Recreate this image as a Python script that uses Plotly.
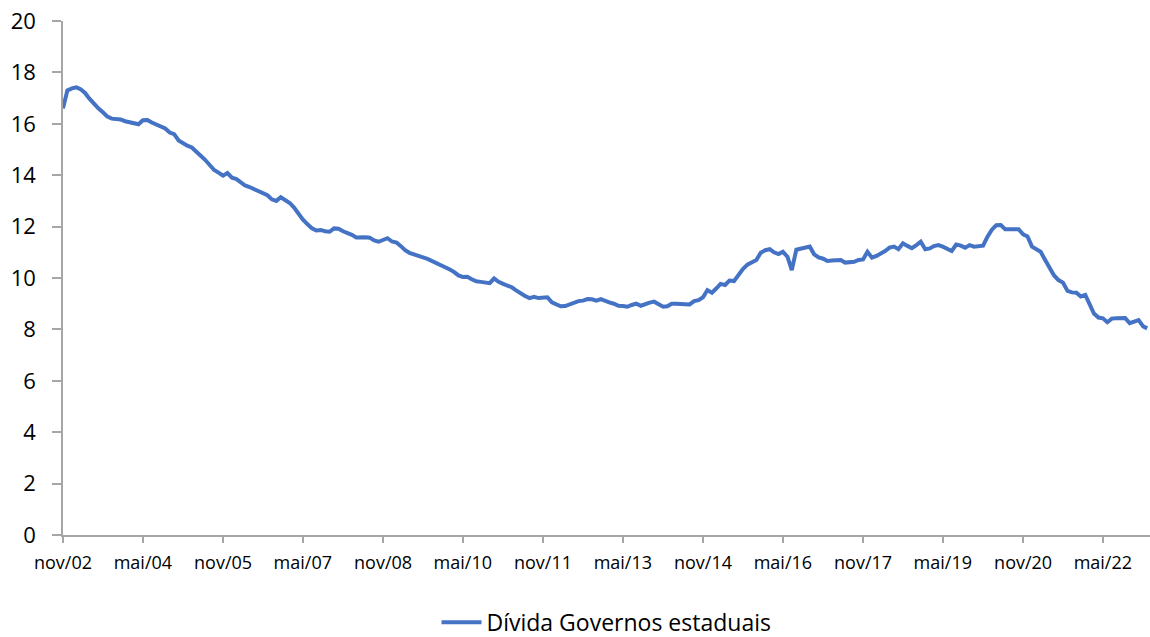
import pandas as pd
import plotly.graph_objects as go

# Monthly state-government debt (% of GDP), nov/2002 onwards
start_month = "2002-11-01"
divida_estaduais = [
    16.60, 17.30, 17.38, 17.42, 17.35, 17.20, 16.98, 16.78, 16.60, 16.45,  # nov/02 - ago/03
    16.28, 16.20, 16.18, 16.17, 16.10, 16.06, 16.02, 15.98, 16.14, 16.15,  # set/03 - jun/04
    16.05, 15.96, 15.90, 15.82, 15.66, 15.60, 15.35, 15.22, 15.15, 15.08,  # jul/04 - abr/05
    14.90, 14.76, 14.60, 14.40, 14.20, 14.10, 13.98, 14.08, 13.90, 13.85,  # mai/05 - fev/06
    13.72, 13.60, 13.54, 13.45, 13.38, 13.30, 13.22, 13.06, 13.00, 13.14,  # mar/06 - dez/06
    13.02, 12.92, 12.75, 12.50, 12.28, 12.10, 11.94, 11.85, 11.87, 11.82,  # jan/07 - out/07
    11.80, 11.93, 11.92, 11.82, 11.76, 11.68, 11.58, 11.60, 11.59, 11.57,  # nov/07 - ago/08
    11.46, 11.41, 11.48, 11.55, 11.42, 11.38, 11.25, 11.08, 10.98, 10.93,  # set/08 - jun/09
    10.88, 10.80, 10.74, 10.66, 10.60, 10.52, 10.45, 10.33, 10.24, 10.10,  # jul/09 - abr/10
    10.04, 10.05, 9.95, 9.87, 9.85, 9.83, 9.80, 9.98, 9.85, 9.77,          # mai/10 - fev/11
    9.70, 9.64, 9.52, 9.40, 9.30, 9.22, 9.27, 9.22, 9.22, 9.25,            # mar/11 - dez/11
    9.05, 8.96, 8.90, 8.91, 8.98, 9.06, 9.10, 9.12, 9.18, 9.17,            # jan/12 - out/12
    9.12, 9.18, 9.10, 9.04, 9.00, 8.92, 8.91, 8.88, 8.95, 9.00,            # nov/12 - ago/13
    8.92, 9.00, 9.04, 9.08, 9.00, 8.88, 8.90, 9.00, 9.00, 8.97,            # set/13 - jun/14
    8.98, 8.97, 9.10, 9.14, 9.25, 9.53, 9.43, 9.60, 9.77, 9.73,            # jul/14 - abr/15
    9.90, 9.88, 10.12, 10.35, 10.52, 10.62, 10.70, 10.98, 11.08, 11.12,    # mai/15 - fev/16
    11.00, 10.93, 11.02, 10.83, 10.31, 11.10, 11.15, 11.18, 11.22, 10.92,  # mar/16 - dez/16
    10.80, 10.75, 10.66, 10.68, 10.69, 10.70, 10.60, 10.61, 10.63, 10.70,  # jan/17 - out/17
    10.72, 11.02, 10.79, 10.86, 10.93, 11.05, 11.18, 11.22, 11.12, 11.35,  # nov/17 - ago/18
    11.25, 11.16, 11.28, 11.41, 11.12, 11.15, 11.24, 11.28, 11.22, 11.15,  # set/18 - jun/19
    11.05, 11.30, 11.26, 11.18, 11.28, 11.22, 11.24, 11.26, 11.60, 11.88,  # jul/19 - abr/20
    12.05, 12.06, 11.90, 11.89, 11.91, 11.90, 11.70, 11.62, 11.22, 11.10,  # mai/20 - fev/21
    11.02, 10.70, 10.40, 10.10, 9.92, 9.82, 9.50, 9.44, 9.43, 9.28,        # mar/21 - dez/21
    9.34, 8.92, 8.62, 8.46, 8.43, 8.28, 8.42, 8.43, 8.42, 8.44,            # jan/22 - out/22
    8.24, 8.30, 8.36, 8.12, 8.04,                                          # nov/22 - mar/23
]
series_name = "Dívida Governos estaduais"

tick_labels = ["nov/02", "mai/04", "nov/05", "mai/07", "nov/08", "mai/10", "nov/11",
               "mai/13", "nov/14", "mai/16", "nov/17", "mai/19", "nov/20", "mai/22"]

months = pd.date_range(start_month, periods=len(divida_estaduais), freq="MS")
tick_dates = pd.date_range(start_month, periods=len(tick_labels), freq="18MS")

axis_grey = "#a6a6a6"
font_family = "'Open Sans', Lato, sans-serif"

fig = go.Figure()
fig.add_trace(go.Scatter(
    x=months, y=divida_estaduais, mode="lines", name=series_name,
    line=dict(color="#4472C4", width=4),
))

fig.update_layout(
    width=1150, height=637,
    margin=dict(l=63, r=0, t=21, b=102),
    paper_bgcolor="white", plot_bgcolor="white",
    font=dict(family=font_family, color="black"),
    showlegend=True,
    legend=dict(orientation="h", x=0.5, xanchor="center",
                yref="container", y=0.023, yanchor="middle",
                font=dict(size=23), itemwidth=40,
                bgcolor="rgba(0,0,0,0)"),
)
fig.update_xaxes(
    range=[pd.Timestamp(start_month), pd.Timestamp("2023-03-20")],
    tickvals=tick_dates, ticktext=tick_labels,
    showgrid=False, zeroline=False, showline=True, linecolor=axis_grey, linewidth=1.5,
    ticks="outside", ticklen=6, tickcolor=axis_grey, tickwidth=1.5,
    ticklabelstandoff=5,
    tickfont=dict(size=18),
)
fig.update_yaxes(
    range=[0, 20], dtick=2, tick0=0,
    showgrid=False, zeroline=False, showline=True, linecolor=axis_grey, linewidth=1.5,
    ticks="outside", ticklen=9, tickcolor=axis_grey, tickwidth=1.5,
    ticklabelstandoff=12,
    tickfont=dict(size=22),
)

fig.write_html("out.html")
